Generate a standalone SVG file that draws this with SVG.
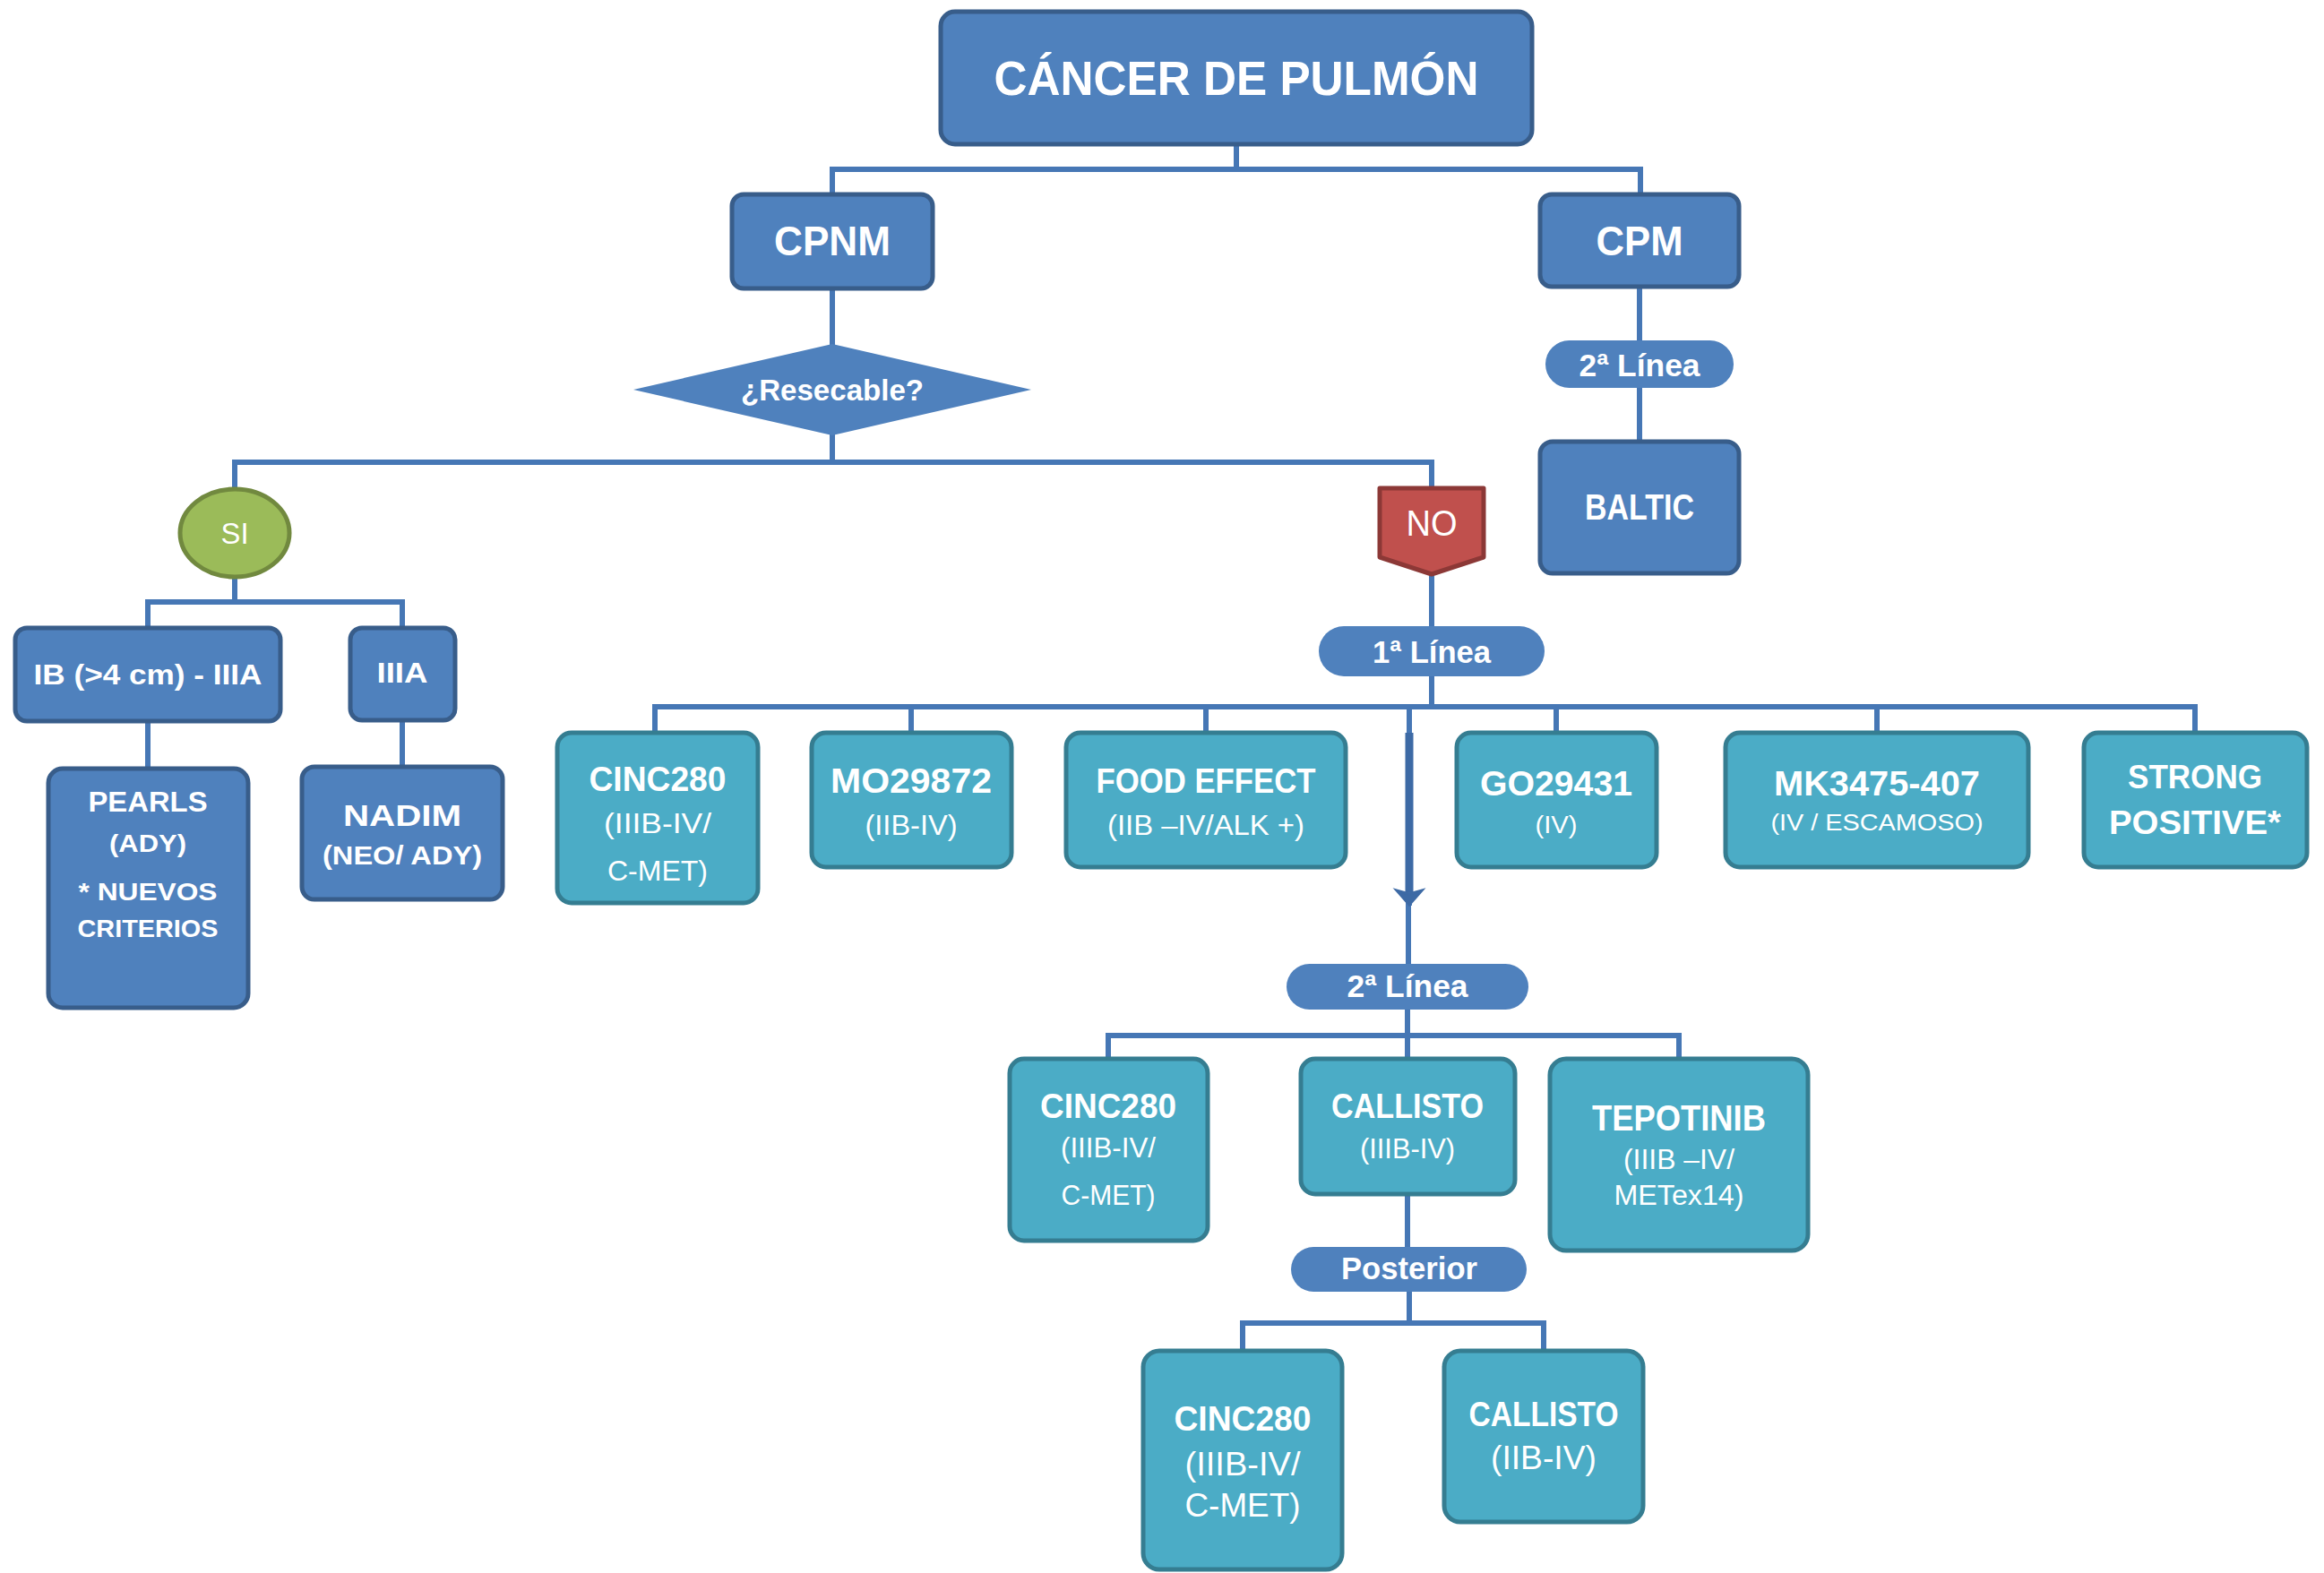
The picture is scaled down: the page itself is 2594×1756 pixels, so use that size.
<svg xmlns="http://www.w3.org/2000/svg" width="2594" height="1756" viewBox="0 0 2594 1756">
<defs>
<style>
.bg{fill:#ffffff}
.b{fill:#4f81bd;stroke:#385d8a;stroke-width:5}
.t{fill:#4bacc6;stroke:#357d91;stroke-width:5}
.p{fill:#4f81bd}
.c{stroke:#4677b5;stroke-width:6;fill:none;stroke-linecap:square}
text{font-family:"Liberation Sans",Arial,sans-serif;fill:#ffffff;text-anchor:middle}
.bd{font-weight:bold}
</style>
</defs>
<rect class="bg" x="0" y="0" width="2594" height="1756"/>
<g id="connectors">
<path class="c" d="M1380 160V189M929 189H1831M929 189V217M1831 189V217"/>
<path class="c" d="M1830 319V380M1830 433V493"/>
<path class="c" d="M929 323V385M929 485V516M262 516H1598M262 516V544M1598 516V545"/>
<path class="c" d="M262 646V672M165 672H449M165 672V701M449 672V701"/>
<path class="c" d="M165 805V858M449 804V855"/>
<path class="c" d="M1598 641V700M1598 755V789M731 789H2450M731 789V818M1017 789V818M1346 789V818M1737 789V818M2095 789V818M2450 789V818"/>
<path class="c" d="M1573 789V1008M1572 1008V1076"/>
<path d="M1573 818V996" stroke="#3d6aa5" stroke-width="9" fill="none"/>
<path d="M1559 994L1573 1010L1587 994L1573 998Z" fill="#3d6aa5" stroke="#3d6aa5" stroke-width="3"/>
<path class="c" d="M1571 1127V1156M1237 1156H1874M1237 1156V1182M1571 1156V1182M1874 1156V1182"/>
<path class="c" d="M1571 1333V1392"/>
<path class="c" d="M1573 1442V1477M1387 1477H1723M1387 1477V1508M1723 1477V1508"/>
</g>
<g id="n-cancer"><rect class="b" x="1050" y="13" width="660" height="148" rx="16"/><text class="bd" x="1380" y="106" font-size="54" textLength="541" lengthAdjust="spacingAndGlyphs">CÁNCER DE PULMÓN</text></g>
<g id="n-cpnm"><rect class="b" x="817" y="217" width="224" height="105" rx="13"/><text class="bd" x="929" y="285" font-size="46" textLength="130" lengthAdjust="spacingAndGlyphs">CPNM</text></g>
<g id="n-cpm"><rect class="b" x="1719" y="217" width="222" height="103" rx="13"/><text class="bd" x="1830" y="285" font-size="46" textLength="97" lengthAdjust="spacingAndGlyphs">CPM</text></g>
<g id="n-cpm-2linea"><rect class="p" x="1725" y="380" width="210" height="53" rx="26.5"/><text class="bd" x="1830" y="420" font-size="35" textLength="135" lengthAdjust="spacingAndGlyphs">2ª Línea</text></g>
<g id="n-baltic"><rect class="b" x="1719" y="493" width="222" height="147" rx="14"/><text class="bd" x="1830" y="580" font-size="41" textLength="122" lengthAdjust="spacingAndGlyphs">BALTIC</text></g>
<g id="n-resecable"><polygon class="p" points="707,435 929,384 1151,435 929,486"/><text class="bd" x="929" y="447" font-size="34" textLength="204" lengthAdjust="spacingAndGlyphs">¿Resecable?</text></g>
<g id="n-si"><ellipse cx="262" cy="595" rx="61" ry="49" fill="#9bbb59" stroke="#71893f" stroke-width="5"/><text x="262" y="607" font-size="33" textLength="31" lengthAdjust="spacingAndGlyphs" fill="#f4f7ec">SI</text></g>
<g id="n-no"><polygon points="1540,545 1656,545 1656,622 1598,641 1540,622" fill="#c0504d" stroke="#8c3836" stroke-width="5" stroke-linejoin="round"/><text x="1598" y="598" font-size="40" textLength="57" lengthAdjust="spacingAndGlyphs">NO</text></g>
<g id="n-ib"><rect class="b" x="17" y="701" width="296" height="104" rx="13"/><text class="bd" x="165" y="764" font-size="31" textLength="255" lengthAdjust="spacingAndGlyphs">IB (&gt;4 cm) - IIIA</text></g>
<g id="n-iiia"><rect class="b" x="391" y="701" width="117" height="103" rx="13"/><text class="bd" x="449" y="762" font-size="31" textLength="57" lengthAdjust="spacingAndGlyphs">IIIA</text></g>
<g id="n-pearls"><rect class="b" x="54" y="858" width="223" height="267" rx="16"/>
<text class="bd" x="165" y="906" font-size="32" textLength="133" lengthAdjust="spacingAndGlyphs">PEARLS</text>
<text class="bd" x="165" y="951" font-size="28" textLength="86" lengthAdjust="spacingAndGlyphs">(ADY)</text>
<text class="bd" x="165" y="1005" font-size="28" textLength="155" lengthAdjust="spacingAndGlyphs">* NUEVOS</text>
<text class="bd" x="165" y="1046" font-size="28" textLength="157" lengthAdjust="spacingAndGlyphs">CRITERIOS</text></g>
<g id="n-nadim"><rect class="b" x="337" y="856" width="224" height="148" rx="14"/>
<text class="bd" x="449" y="922" font-size="34" textLength="132" lengthAdjust="spacingAndGlyphs">NADIM</text>
<text class="bd" x="449" y="965" font-size="29" textLength="178" lengthAdjust="spacingAndGlyphs">(NEO/ ADY)</text></g>
<g id="n-1linea"><rect class="p" x="1472" y="699" width="252" height="56" rx="28"/><text class="bd" x="1598" y="740" font-size="35" textLength="132" lengthAdjust="spacingAndGlyphs">1ª Línea</text></g>
<g id="n-cinc280-1"><rect class="t" x="622" y="818" width="224" height="190" rx="16"/>
<text class="bd" x="734" y="883" font-size="38" textLength="153" lengthAdjust="spacingAndGlyphs">CINC280</text>
<text x="734" y="930" font-size="31" textLength="120" lengthAdjust="spacingAndGlyphs">(IIIB-IV/</text>
<text x="734" y="983" font-size="31" textLength="112" lengthAdjust="spacingAndGlyphs">C-MET)</text></g>
<g id="n-mo29872"><rect class="t" x="906" y="818" width="223" height="150" rx="16"/>
<text class="bd" x="1017" y="885" font-size="38" textLength="180" lengthAdjust="spacingAndGlyphs">MO29872</text>
<text x="1017" y="932" font-size="31" textLength="103" lengthAdjust="spacingAndGlyphs">(IIB-IV)</text></g>
<g id="n-food"><rect class="t" x="1190" y="818" width="312" height="150" rx="16"/>
<text class="bd" x="1346" y="885" font-size="38" textLength="245" lengthAdjust="spacingAndGlyphs">FOOD EFFECT</text>
<text x="1346" y="932" font-size="31" textLength="220" lengthAdjust="spacingAndGlyphs">(IIB –IV/ALK +)</text></g>
<g id="n-go29431"><rect class="t" x="1626" y="818" width="223" height="150" rx="16"/>
<text class="bd" x="1737" y="888" font-size="38" textLength="170" lengthAdjust="spacingAndGlyphs">GO29431</text>
<text x="1737" y="930" font-size="28" textLength="47" lengthAdjust="spacingAndGlyphs">(IV)</text></g>
<g id="n-mk3475"><rect class="t" x="1926" y="818" width="338" height="150" rx="16"/>
<text class="bd" x="2095" y="888" font-size="38" textLength="230" lengthAdjust="spacingAndGlyphs">MK3475-407</text>
<text x="2095" y="927" font-size="26" textLength="237" lengthAdjust="spacingAndGlyphs">(IV / ESCAMOSO)</text></g>
<g id="n-strong"><rect class="t" x="2326" y="818" width="249" height="150" rx="16"/>
<text class="bd" x="2450" y="880" font-size="36" textLength="150" lengthAdjust="spacingAndGlyphs">STRONG</text>
<text class="bd" x="2450" y="931" font-size="36" textLength="192" lengthAdjust="spacingAndGlyphs">POSITIVE*</text></g>
<g id="n-2linea"><rect class="p" x="1436" y="1076" width="270" height="51" rx="25.5"/><text class="bd" x="1571" y="1113" font-size="35" textLength="135" lengthAdjust="spacingAndGlyphs">2ª Línea</text></g>
<g id="n-cinc280-2"><rect class="t" x="1127" y="1182" width="221" height="203" rx="16"/>
<text class="bd" x="1237" y="1248" font-size="38" textLength="152" lengthAdjust="spacingAndGlyphs">CINC280</text>
<text x="1237" y="1292" font-size="31" textLength="106" lengthAdjust="spacingAndGlyphs">(IIIB-IV/</text>
<text x="1237" y="1345" font-size="31" textLength="105" lengthAdjust="spacingAndGlyphs">C-MET)</text></g>
<g id="n-callisto-2"><rect class="t" x="1452" y="1182" width="239" height="151" rx="16"/>
<text class="bd" x="1571" y="1248" font-size="38" textLength="170" lengthAdjust="spacingAndGlyphs">CALLISTO</text>
<text x="1571" y="1293" font-size="31" textLength="106" lengthAdjust="spacingAndGlyphs">(IIIB-IV)</text></g>
<g id="n-tepotinib"><rect class="t" x="1730" y="1182" width="288" height="214" rx="18"/>
<text class="bd" x="1874" y="1262" font-size="40" textLength="194" lengthAdjust="spacingAndGlyphs">TEPOTINIB</text>
<text x="1874" y="1305" font-size="31" textLength="124" lengthAdjust="spacingAndGlyphs">(IIIB –IV/</text>
<text x="1874" y="1345" font-size="31" textLength="145" lengthAdjust="spacingAndGlyphs">METex14)</text></g>
<g id="n-posterior"><rect class="p" x="1441" y="1392" width="263" height="50" rx="25"/><text class="bd" x="1573" y="1428" font-size="35" textLength="152" lengthAdjust="spacingAndGlyphs">Posterior</text></g>
<g id="n-cinc280-3"><rect class="t" x="1276" y="1508" width="222" height="244" rx="18"/>
<text class="bd" x="1387" y="1597" font-size="38" textLength="153" lengthAdjust="spacingAndGlyphs">CINC280</text>
<text x="1387" y="1647" font-size="37" textLength="129" lengthAdjust="spacingAndGlyphs">(IIIB-IV/</text>
<text x="1387" y="1693" font-size="37" textLength="129" lengthAdjust="spacingAndGlyphs">C-MET)</text></g>
<g id="n-callisto-3"><rect class="t" x="1612" y="1508" width="222" height="191" rx="18"/>
<text class="bd" x="1723" y="1592" font-size="38" textLength="167" lengthAdjust="spacingAndGlyphs">CALLISTO</text>
<text x="1723" y="1640" font-size="37" textLength="118" lengthAdjust="spacingAndGlyphs">(IIB-IV)</text></g>
</svg>
